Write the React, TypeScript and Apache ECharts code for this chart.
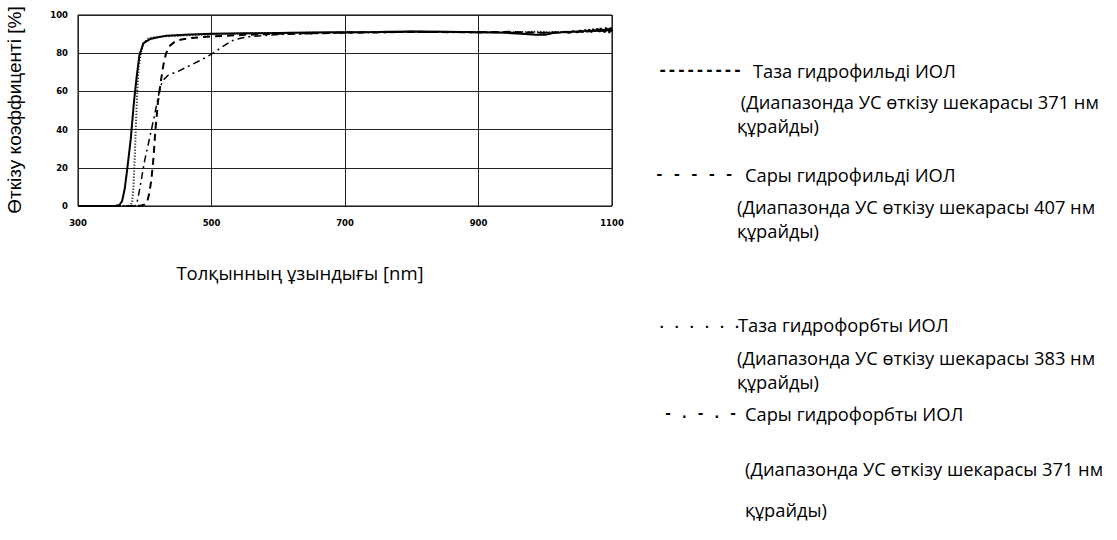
import React, { useEffect, useRef } from "react";
import * as echarts from "echarts";

// Wavelength (nm) / transmission (%) for each IOL
const clearHydrophilicX = [300, 355, 362, 366, 370, 374, 379, 384, 388, 392, 398, 408, 420, 433, 460, 500, 550, 600, 650, 700, 750, 800, 850, 900, 930, 950, 970, 985, 1000, 1012, 1022, 1030, 1036, 1042, 1048, 1052, 1056, 1060, 1063, 1066, 1069, 1072, 1075, 1078, 1081, 1083, 1085, 1087, 1089, 1091, 1093, 1095, 1096, 1098, 1099, 1100];
const clearHydrophilicY = [0, 0, 0.5, 2.5, 9, 20, 35, 55, 68, 79, 85.3, 87.4, 88.4, 89.2, 89.7, 90.2, 90.4, 90.6, 90.8, 91, 91.1, 91.4, 91.2, 91, 90.9, 90.5, 90, 89.6, 89.7, 90.6, 90.8, 91.2, 90.7, 91.5, 90.9, 91.8, 91.1, 92.1, 91.2, 92.4, 91.0, 92.6, 91.4, 92.9, 91.2, 93.1, 91.6, 92.4, 90.8, 93.4, 91.7, 93.0, 90.5, 93.5, 91.4, 92.4];

const yellowHydrophilicX = [300, 388, 395, 400, 404, 407, 410, 413, 416, 420, 424, 428, 432, 438, 445, 455, 470, 500, 550, 600, 700, 800, 900, 950, 980, 1000, 1050, 1100];
const yellowHydrophilicY = [0, 0, 0.3, 0.8, 2.5, 7, 14, 25, 40, 55, 65, 74, 80, 84, 86, 87.2, 88, 88.8, 89.6, 90.2, 90.8, 91.2, 91, 91.2, 90.8, 90.7, 91.3, 92];

const clearHydrophobicX = [300, 378, 381, 383, 385, 387, 389, 391, 394, 398, 404, 412, 430, 460, 500, 600, 700, 800, 900, 960, 990, 1000, 1050, 1100];
const clearHydrophobicY = [0, 0, 2, 10, 25, 45, 62, 73, 80, 85, 87.5, 88.3, 88.8, 89.3, 89.9, 90.6, 91, 91.3, 91, 91, 91.3, 90.8, 91.4, 92];

const yellowHydrophobicX = [300, 385, 388, 392, 396, 400, 405, 410, 415, 420, 424, 428, 435, 450, 470, 485, 500, 515, 530, 545, 560, 600, 700, 800, 900, 1000, 1050, 1100];
const yellowHydrophobicY = [0, 0, 1, 8, 16, 24, 32, 40, 48, 57, 63, 66, 68.5, 70.5, 74, 76.5, 79.5, 83, 86.5, 88, 88.8, 89.8, 90.6, 91, 90.8, 90.8, 91.3, 92];

const xTicks = [300, 500, 700, 900, 1100];
const yTicks = [0, 20, 40, 60, 80, 100];

const yTitle = "Өткізу коэффиценті [%]";
const xTitle = "Толқынның ұзындығы [nm]";

const legendMarkers = ["---------", "- - - - -", ". . . . . .", "- . - . -"];
const legendNames = ["Таза гидрофильді ИОЛ", "Сары гидрофильді ИОЛ", "Таза гидрофорбты ИОЛ", "Сары гидрофорбты ИОЛ"];
const legendNotes = [
  " (Диапазонда УС өткізу шекарасы 371 нм",
  "(Диапазонда УС өткізу шекарасы 407 нм",
  "(Диапазонда УС өткізу шекарасы 383 нм",
  "(Диапазонда УС өткізу шекарасы 371 нм",
];
const legendNoteEnd = "құрайды)";

const zip = (xs: number[], ys: number[]) => xs.map((x, i) => [x, ys[i]]);

export default function App() {
  const ref = useRef<HTMLDivElement>(null);
  useEffect(() => {
    if (!ref.current) return;
    const chart = echarts.init(ref.current, null, { renderer: "svg" });
    const textFont = "'Open Sans', sans-serif";
    const mono = "'DejaVu Sans Mono', monospace";
    const txt = (text: string, x: number, y: number, size: number, family: string, weight = "normal") => ({
      type: "text",
      x,
      y,
      style: { text, fill: "#000", font: `${weight} ${size}px ${family}`, textVerticalAlign: "middle", textAlign: "left" },
    });
    const fs = 18.3;
    const graphics: any[] = [
      txt(legendMarkers[0], 658, 70, 15.5, mono, "bold"),
      txt(legendNames[0], 753, 70, fs, textFont),
      txt(legendNotes[0], 736, 101, fs, textFont),
      txt(legendNoteEnd, 737, 125, fs, textFont),
      txt(legendMarkers[1], 655, 174, 14.5, mono, "bold"),
      txt(legendNames[1], 745, 174, fs, textFont),
      txt(legendNotes[1], 737, 206, fs, textFont),
      txt(legendNoteEnd, 737, 230, fs, textFont),
      txt(legendMarkers[2], 658, 323, 12.5, mono, "bold"),
      txt(legendNames[2], 738, 324, fs, textFont),
      txt(legendNotes[2], 737, 357, fs, textFont),
      txt(legendNoteEnd, 737, 381, fs, textFont),
      txt(legendMarkers[3], 664, 413, 13.5, mono, "bold"),
      txt(legendNames[3], 745, 413, fs, textFont),
      txt(legendNotes[3], 745, 468, fs, textFont),
      txt(legendNoteEnd, 745, 509, fs, textFont),
      {
        type: "text",
        x: 300,
        y: 272,
        style: { text: xTitle, fill: "#000", font: `18.5px ${textFont}`, textAlign: "center", textVerticalAlign: "middle" },
      },
      {
        type: "text",
        x: 14,
        y: 110,
        rotation: Math.PI / 2,
        style: { text: yTitle, fill: "#000", font: "19px 'Liberation Sans', Arial, sans-serif", textAlign: "center", textVerticalAlign: "middle" },
      },
    ];
    const lineSeries = (name: string, data: number[][], width: number, dash: any) => ({
      name,
      type: "line",
      data,
      showSymbol: false,
      symbol: "none",
      lineStyle: { color: "#000", width, type: dash },
      z: 3,
    });
    const tickLabel = {
      color: "#000",
      fontSize: 8.5,
      fontWeight: "bold",
      fontFamily: "'DejaVu Sans', Verdana, sans-serif",
    };
    chart.setOption({
      animation: false,
      grid: { left: 78, top: 15, right: 505, bottom: 334, show: true, borderColor: "#000", borderWidth: 1 },
      xAxis: {
        type: "value",
        min: 300,
        max: 1100,
        interval: 200,
        axisLine: { show: false },
        axisTick: { show: false },
        splitLine: { show: true, lineStyle: { color: "#222", width: 1 } },
        axisLabel: { ...tickLabel, margin: 12, formatter: (v: number) => (xTicks.includes(v) ? String(v) : "") },
      },
      yAxis: {
        type: "value",
        min: 0,
        max: 100,
        interval: 20,
        axisLine: { show: false },
        axisTick: { show: false },
        splitLine: { show: true, lineStyle: { color: "#222", width: 1 } },
        axisLabel: { ...tickLabel, margin: 10, formatter: (v: number) => (yTicks.includes(v) ? String(v) : "") },
      },
      series: [
        lineSeries(legendNames[2], zip(clearHydrophobicX, clearHydrophobicY), 2, [1, 2]),
        lineSeries(legendNames[3], zip(yellowHydrophobicX, yellowHydrophobicY), 1.5, [7, 4, 2, 4]),
        lineSeries(legendNames[1], zip(yellowHydrophilicX, yellowHydrophilicY), 2, [7, 5]),
        lineSeries(legendNames[0], zip(clearHydrophilicX, clearHydrophilicY), 2, "solid"),
      ],
      graphic: graphics,
    });
    return () => chart.dispose();
  }, []);
  return <div ref={ref} style={{ position: "fixed", left: 0, top: 0, width: 1117, height: 540, background: "#fff" }} />;
}
